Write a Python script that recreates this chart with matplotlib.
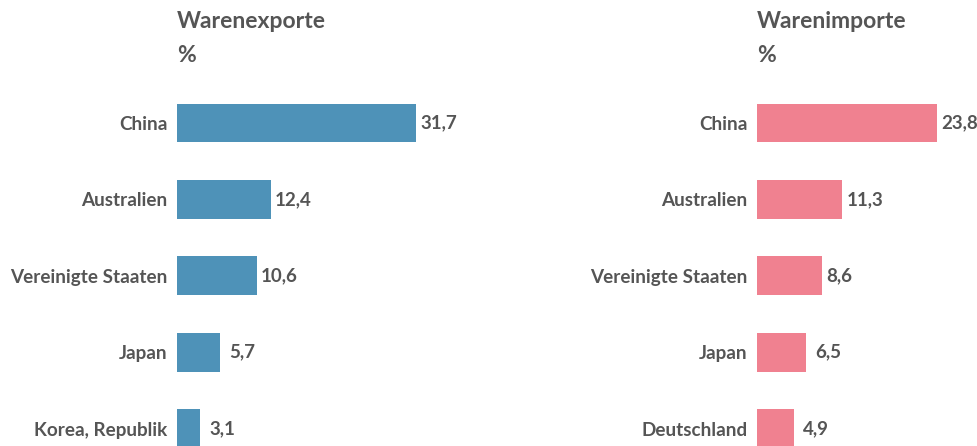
import matplotlib.pyplot as plt

# Data
export_countries = ["China", "Australien", "Vereinigte Staaten", "Japan", "Korea, Republik"]
export_values = [31.7, 12.4, 10.6, 5.7, 3.1]
import_countries = ["China", "Australien", "Vereinigte Staaten", "Japan", "Deutschland"]
import_values = [23.8, 11.3, 8.6, 6.5, 4.9]

BLUE = "#4E92B8"
PINK = "#F08190"
TEXT = "#555555"

W, H = 977, 446
fig = plt.figure(figsize=(W / 100, H / 100), dpi=100)
plt.rcParams['font.family'] = ['Lato', 'DejaVu Sans']

PX_PER_UNIT = 7.55
XMAX = 40
Y0, DY = 123, 76.4   # pixel center of first bar, spacing


def panel(x_left, title, countries, values, color):
    ax = fig.add_axes([x_left / W, 0, XMAX * PX_PER_UNIT / W, 1])
    ypos = list(range(len(countries)))
    ax.barh(ypos, values, height=0.51, color=color)
    ax.set_xlim(0, XMAX)
    ax.set_ylim((H - Y0) / DY, -Y0 / DY)
    ax.set_yticks(ypos)
    ax.set_yticklabels(countries, fontsize=13.6, fontweight='bold', color=TEXT)
    ax.tick_params(axis='y', length=0, pad=7)
    ax.set_xticks([])
    for s in ax.spines.values():
        s.set_visible(False)
    ax.patch.set_alpha(0)
    for y, v in zip(ypos, values):
        # short bars get their label pushed a bit further out
        off = 3 if v > 8 else 6.5
        ax.annotate(f"{v:.1f}".replace(".", ","), (v, y), xytext=(off, 0),
                    textcoords='offset points', va='center', ha='left',
                    fontsize=13.5, fontweight='bold', color=TEXT)
    fig.text(x_left / W, 1 - 22 / H, title, fontsize=16.5, fontweight='bold',
             color=TEXT, va='center', ha='left')
    fig.text(x_left / W, 1 - 55 / H, "%", fontsize=16.5, fontweight='bold',
             color=TEXT, va='center', ha='left')


panel(177, "Warenexporte", export_countries, export_values, BLUE)
panel(757, "Warenimporte", import_countries, import_values, PINK)

fig.savefig("out.png", dpi=100)
